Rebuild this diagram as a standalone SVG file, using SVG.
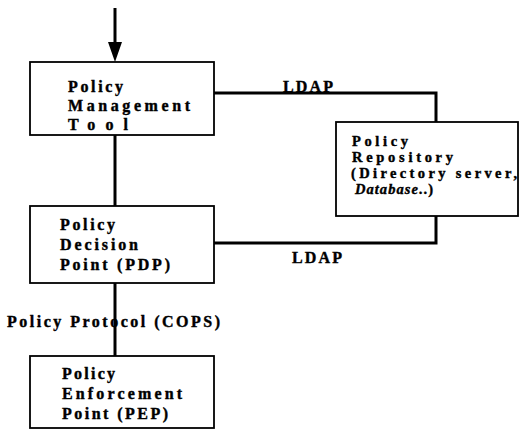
<svg xmlns="http://www.w3.org/2000/svg" width="520" height="431" viewBox="0 0 520 431">
<style>
.box{fill:#fff;stroke:#000;stroke-width:1.8}
.t{font-family:"Liberation Serif","Times New Roman",serif;font-weight:bold;font-size:16px;fill:#000;stroke:#000;stroke-width:0.4}
.r{font-size:14.5px}
.ln{fill:none;stroke:#000;stroke-width:3}
</style>
<rect width="520" height="431" fill="#fff"/>
<g id="connectors">
<line class="ln" x1="115" y1="8" x2="115" y2="44"/>
<path d="M108,42 L122,42 L115,62 Z" fill="#000"/>
<polyline class="ln" points="214,93 436,93 436,122"/>
<polyline class="ln" points="436,216 436,243 214,243"/>
<line class="ln" x1="115" y1="135" x2="115" y2="206"/>
<line class="ln" x1="115" y1="283" x2="115" y2="356"/>
<text class="t" x="283" y="92" textLength="50" lengthAdjust="spacing">LDAP</text>
<text class="t" x="292" y="263" textLength="50" lengthAdjust="spacing">LDAP</text>
<text class="t" x="7" y="327" textLength="213" lengthAdjust="spacing">Policy Protocol (COPS)</text>
</g>
<g id="pmt">
<rect class="box" x="30" y="62" width="184" height="73"/>
<text class="t" x="68" y="92" textLength="55" lengthAdjust="spacing">Policy</text>
<text class="t" x="68" y="111" textLength="122" lengthAdjust="spacing">Management</text>
<text class="t" x="68" y="130" textLength="60" lengthAdjust="spacing">Tool</text>
</g>
<g id="repository">
<rect class="box" x="336" y="122" width="182" height="94"/>
<text class="t r" x="352" y="146" textLength="56" lengthAdjust="spacing">Policy</text>
<text class="t r" x="352" y="162" textLength="101" lengthAdjust="spacing">Repository</text>
<text class="t r" x="351" y="178" textLength="166" lengthAdjust="spacing">(Directory server,</text>
<text class="t r" x="355" y="194" textLength="78" lengthAdjust="spacing"><tspan font-style="italic">Database</tspan>..)</text>
</g>
<g id="pdp">
<rect class="box" x="30" y="206" width="184" height="77"/>
<text class="t" x="60" y="230" textLength="55" lengthAdjust="spacing">Policy</text>
<text class="t" x="60" y="250" textLength="78" lengthAdjust="spacing">Decision</text>
<text class="t" x="60" y="270" textLength="110" lengthAdjust="spacing">Point (PDP)</text>
</g>
<g id="pep">
<rect class="box" x="30" y="356" width="184" height="72"/>
<text class="t" x="62" y="379" textLength="53" lengthAdjust="spacing">Policy</text>
<text class="t" x="62" y="399" textLength="120" lengthAdjust="spacing">Enforcement</text>
<text class="t" x="62" y="419" textLength="106" lengthAdjust="spacing">Point (PEP)</text>
</g>
</svg>
